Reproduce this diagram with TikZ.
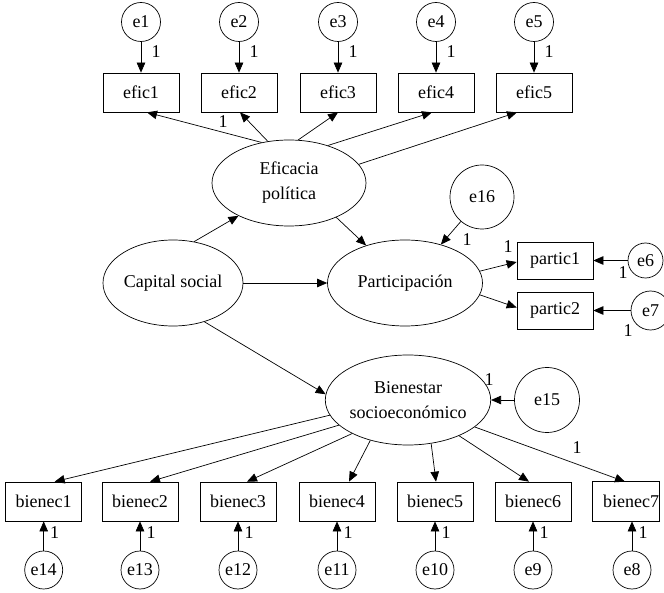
\documentclass[tikz,border=0pt]{standalone}
\usepackage{fontspec}
\setmainfont{Liberation Serif}
\usetikzlibrary{shapes.geometric,arrows.meta,calc}
\begin{document}
\begin{tikzpicture}[x=1pt,y=-1pt,
  every node/.style={font=\fontsize{18}{25}\selectfont},
  obs/.style={draw, line width=0.7pt, minimum width=76pt, minimum height=39pt, inner sep=0pt},
  lat/.style={draw, line width=0.7pt, ellipse, inner sep=0pt, align=center},
  err/.style={draw, line width=0.7pt, circle, minimum size=39pt, inner sep=0pt},
  path/.style={line width=0.7pt, -{Triangle[length=10pt,width=8.5pt]}},
  wt/.style={inner sep=0pt}]
\useasboundingbox (0,0) rectangle (664,593);
\clip (0,0) rectangle (664,593);

% top indicators
\foreach \i/\x in {1/141,2/239,3/338,4/436,5/534} {
  \node[err] (e\i) at (\x,22) {e\i};
  \node[obs] (efic\i) at (\x,92.5) {efic\i};
  \draw[path] (e\i) -- (efic\i);
  \node[wt] (lt\i) at (\x+15,52) {1};
}

% latent variables
\node[lat, minimum width=154pt, minimum height=86pt] (efp) at (289,183) {Eficacia\\política};
\node[lat, minimum width=140pt, minimum height=86pt] (cap) at (173,283) {Capital social};
\node[lat, minimum width=155pt, minimum height=86pt] (part) at (405,283) {Participación};
\node[lat, minimum width=154pt, minimum height=90pt] (bien) at (408,400) {Bienestar\\socioeconómico};

% error terms of latents
\node[err, minimum size=64pt] (e16) at (482,197) {e16};
\node[err, minimum size=65pt] (e15) at (547,400) {e15};

% participation indicators
\node[obs, minimum height=37pt] (partic1) at (555,260.5) {partic1};
\node[obs, minimum height=37pt] (partic2) at (555,310.5) {partic2};
\node[err, minimum size=35pt] (e6) at (645.5,260.5) {e6};
\node[err, minimum size=39pt] (e7) at (650.5,310.5) {e7};

% Eficacia -> efic
\draw[path] (efp.124) -- ($(efic1.south)+(6,0)$);
\draw[path] (efp.117) -- ($(efic2.south)+(1,0)$);
\draw[path] (efp.78) -- (efic3.south);
\draw[path] (efp.44) -- ($(efic4.south)+(-4,0)$);
\draw[path] (efp.15.5) -- ($(efic5.south)+(-17,0)$);
\node[wt] (l0) at (223,122) {1};

% structural paths
\draw[path] (cap.63) -- (efp.213);
\draw[path] (cap) -- (part);
\draw[path] (cap.309) -- (bien.176);
\draw[path] (efp.324) -- (part.136);
\draw[path] (e16) -- (part.47);
\node[wt] (l16) at (467,240) {1};

% participation measurement
\draw[path] (part.9.5) -- ($(partic1.west)+(0,1.5)$);
\draw[path] (part.351) -- ($(partic2.west)+(0,-3)$);
\node[wt] (lp1) at (508,247) {1};
\draw[path] (e6) -- (partic1);
\draw[path] (e7) -- (partic2);
\node[wt] (le6) at (623,273) {1};
\node[wt] (le7) at (628,331) {1};

% e15
\draw[path] (e15) -- (bien);
\node[wt] (le15) at (489,380) {1};

% bottom indicators
\foreach \i/\x/\e in {1/43.7/14,2/140/13,3/238/12,4/337/11,5/435/10,6/533/9} {
  \node[obs] (bienec\i) at (\x,501.5) {bienec\i};
  \node[err, minimum size=38pt] (e\e) at (\x,570) {e\e};
  \draw[path] (e\e) -- (bienec\i);
  \node[wt] (lb\i) at (\x+11,533) {1};
}
\node[obs, draw=none] (bienec7) at (631,501.5) {bienec7};
\draw[line width=0.7pt] (bienec7.north west) rectangle ($(bienec7.south east)+(-10,0)$);
\node[err, minimum size=38pt] (e8) at (632,570) {e8};
\draw[path] (e8) -- ($(bienec7.south)+(1,0)$);
\node[wt] (lb7) at (643,533) {1};

% Bienestar -> bienec
\draw[path] (bien.191) -- ($(bienec1.north)+(11,0)$);
\draw[path] (bien.200) -- ($(bienec2.north)+(10,0)$);
\draw[path] (bien.211) -- ($(bienec3.north)+(9,0)$);
\draw[path] (bien.227) -- ($(bienec4.north)+(12,0)$);
\draw[path] (bien.298) -- ($(bienec5.north)+(1,0)$);
\draw[path] (bien.325) -- ($(bienec6.north)+(-4,0)$);
\draw[path] (bien.338.5) -- ($(bienec7.north)+(-6,0)$);
\node[wt] (lb0) at (577,448) {1};
\end{tikzpicture}
\end{document}
